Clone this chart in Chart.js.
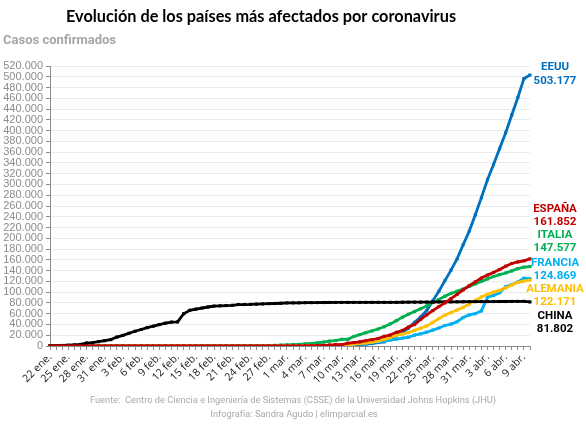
<!DOCTYPE html>
<html>
<head>
<meta charset="utf-8">
<script src="https://cdn.jsdelivr.net/npm/chart.js@4.4.1/dist/chart.umd.min.js"></script>
<style>
  html, body { margin: 0; padding: 0; background: #fff; }
  canvas { display: block; }
</style>
</head>
<body>
<canvas id="chart" width="586" height="429"></canvas>
<script>
// Casos confirmados por país, 22 ene. - 10 abr.

const monthNames = ['ene.', 'feb.', 'mar.', 'abr.'];
const monthDays = [31, 29, 31, 30];

const china = [
    548, 643, 920, 1406, 2075, 2877, 5509, 6087, 8141, 9802,
    11891, 16630, 19716, 23707, 27440, 30587, 34110, 36814, 39829, 42354,
    44386, 44759, 59895, 66358, 68413, 70513, 72434, 74211, 74619, 75077,
    75550, 77001, 77022, 77241, 77754, 78166, 78600, 78928, 79356, 79932,
    80136, 80261, 80386, 80537, 80690, 80770, 80823, 80860, 80887, 80921,
    80932, 80945, 80977, 81003, 81033, 81058, 81102, 81156, 81250, 81305,
    81435, 81498, 81591, 81661, 81782, 81897, 81999, 82122, 82198, 82279,
    82361, 82432, 82511, 82543, 82602, 82665, 82718, 82809, 82883, 81802
];

const eeuu = [
    1, 2, 2, 5, 5, 5, 5, 5, 7, 8,
    8, 11, 11, 11, 12, 12, 12, 12, 12, 13,
    13, 14, 14, 14, 14, 14, 14, 14, 14, 16,
    16, 16, 51, 51, 57, 58, 60, 68, 74, 98,
    118, 149, 217, 262, 402, 518, 583, 959, 1281, 1663,
    2179, 2727, 3499, 4632, 6421, 7783, 13747, 19273, 25600, 33276,
    43847, 53740, 65778, 83836, 101657, 121478, 140886, 161807, 188172, 213372,
    243762, 275586, 308853, 337072, 366667, 396223, 429052, 461437, 496535, 503177
];

const espana = [
    0, 0, 0, 0, 0, 0, 0, 0, 0, 1,
    1, 1, 1, 1, 1, 1, 1, 2, 2, 2,
    2, 2, 2, 2, 2, 2, 2, 2, 2, 2,
    2, 2, 6, 13, 15, 32, 45, 84, 120, 165,
    222, 259, 400, 500, 673, 1073, 1695, 2277, 2277, 5232,
    6391, 7798, 9942, 11748, 13910, 17963, 20410, 25374, 28768, 35136,
    39885, 49515, 57786, 65719, 73235, 80110, 87956, 95923, 104118, 112065,
    119199, 126168, 131646, 136675, 141942, 148220, 153222, 156100, 158273, 161852
];

const italia = [
    0, 0, 0, 0, 0, 0, 0, 0, 2, 2,
    2, 2, 2, 2, 2, 3, 3, 3, 3, 3,
    3, 3, 3, 3, 3, 3, 3, 3, 3, 20,
    62, 155, 229, 322, 453, 655, 888, 1128, 1694, 2036,
    2502, 3089, 3858, 4636, 5883, 7375, 9172, 10149, 12462, 12462,
    17660, 21157, 24747, 27980, 31506, 35713, 41035, 47021, 53578, 59138,
    63927, 69176, 74386, 80589, 86498, 92472, 97689, 101739, 105792, 110574,
    115242, 119827, 124632, 128948, 132547, 135586, 139422, 143626, 146400, 147577
];

const francia = [
    0, 2, 3, 3, 3, 4, 5, 5, 5, 6,
    6, 6, 6, 6, 6, 6, 11, 11, 11, 11,
    11, 11, 11, 12, 12, 12, 12, 12, 12, 12,
    12, 12, 12, 14, 18, 38, 57, 100, 130, 191,
    204, 288, 380, 656, 959, 1136, 1219, 1794, 2293, 2293,
    3681, 4496, 4532, 6683, 7715, 9124, 10970, 12758, 14463, 16243,
    20123, 22622, 25600, 29551, 33402, 38105, 40708, 45170, 52827, 57749,
    59929, 65202, 90848, 93773, 98963, 110065, 113959, 118781, 125931, 124869
];

const alemania = [
    0, 0, 0, 0, 1, 4, 4, 4, 5, 8,
    10, 12, 12, 12, 12, 13, 13, 14, 14, 16,
    16, 16, 16, 16, 16, 16, 16, 16, 16, 16,
    16, 16, 16, 17, 27, 46, 48, 79, 130, 159,
    196, 262, 482, 670, 799, 1040, 1176, 1457, 1908, 2078,
    3675, 4585, 5795, 7272, 9257, 12327, 15320, 19848, 22213, 24873,
    29056, 32986, 37323, 43938, 50871, 57695, 62095, 66885, 71808, 77872,
    84794, 91159, 96092, 100123, 103374, 107663, 113296, 118181, 120500, 122171
];

// 22 ene. -> 10 abr.
const dates = [];
(function() {
    let m = 0, d = 22;
    while (dates.length < eeuu.length) {
        dates.push(d + ' ' + monthNames[m]);
        d++;
        if (d > monthDays[m]) { d = 1; m++; }
    }
})();

function fmt(v) {
    return Math.round(v).toString().replace(/\B(?=(\d{3})+(?!\d))/g, '.');
}

const series = [
    { name: 'ESPAÑA', data: espana, color: '#C00000', labelY: [209, 222] },
    { name: 'CHINA', data: china, color: '#000000', labelY: [316, 329] },
    { name: 'ALEMANIA', data: alemania, color: '#FFC000', labelY: [289, 302] },
    { name: 'FRANCIA', data: francia, color: '#00B0F0', labelY: [263, 276] },
    { name: 'ITALIA', data: italia, color: '#00B050', labelY: [235, 248] },
    { name: 'EEUU', data: eeuu, color: '#0070C0', labelY: [67, 81] }
];

const textPlugin = {
    id: 'textPlugin',
    afterDraw(chart) {
        const ctx = chart.ctx;
        ctx.save();
        ctx.textBaseline = 'middle';

        ctx.textAlign = 'center';
        ctx.fillStyle = '#000';
        ctx.font = 'bold 16.3px Lato, sans-serif';
        ctx.fillText('Evolución de los países más afectados por coronavirus', 261, 17);

        ctx.textAlign = 'left';
        ctx.fillStyle = '#a6a6a6';
        ctx.font = 'bold 13px Roboto, sans-serif';
        ctx.fillText('Casos confirmados', 3, 41);

        ctx.textAlign = 'center';
        ctx.fillStyle = '#a9a9a9';
        ctx.font = '9.3px Roboto, sans-serif';
        ctx.fillText('Fuente:  Centro de Ciencia e Ingeniería de Sistemas (CSSE) de la Universidad Johns Hopkins (JHU)', 293, 401);
        ctx.fillText('Infografía: Sandra Agudo | elimparcial.es', 294, 415);

        ctx.font = 'bold 11.5px Roboto, sans-serif';
        series.forEach(s => {
            ctx.fillStyle = s.color;
            ctx.fillText(s.name, 555, s.labelY[0]);
            ctx.fillText(fmt(s.data[s.data.length - 1]), 555, s.labelY[1]);
        });
        ctx.restore();
    }
};

new Chart(document.getElementById('chart'), {
    type: 'line',
    plugins: [textPlugin],
    data: {
        labels: dates,
        datasets: series.map(s => ({
            label: s.name,
            data: s.data,
            borderColor: s.color,
            backgroundColor: s.color,
            borderWidth: 2.8,
            pointRadius: 2.2,
            pointBorderWidth: 0,
            pointStyle: 'rect',
            tension: 0
        }))
    },
    options: {
        responsive: false,
        devicePixelRatio: 1,
        animation: false,
        layout: { padding: { top: 66, right: 56, left: 0, bottom: 0 } },
        plugins: {
            legend: { display: false },
            tooltip: { enabled: false }
        },
        scales: {
            x: {
                offset: false,
                border: { color: '#8c8c8c', width: 1 },
                grid: { drawOnChartArea: false, drawTicks: true, tickLength: 4, color: '#8c8c8c' },
                ticks: {
                    autoSkip: false,
                    maxRotation: 45,
                    minRotation: 45,
                    padding: 1,
                    color: '#1a1a1a',
                    font: { family: 'Open Sans', size: 10.5 },
                    callback: (val, i) => i % 3 === 0 ? dates[i] : ''
                },
                afterFit: scale => { scale.height = 83; }
            },
            y: {
                min: 0,
                max: 520000,
                border: { color: '#8c8c8c', width: 1 },
                grid: { color: '#ebebeb', tickColor: '#8c8c8c', tickLength: 4 },
                ticks: {
                    autoSkip: false,
                    stepSize: 20000,
                    padding: 3,
                    color: '#8c8c8c',
                    font: { family: 'Liberation Sans', size: 11 },
                    callback: v => fmt(v)
                },
                afterFit: scale => { scale.width = 50; }
            }
        }
    }
});
</script>
</body>
</html>
